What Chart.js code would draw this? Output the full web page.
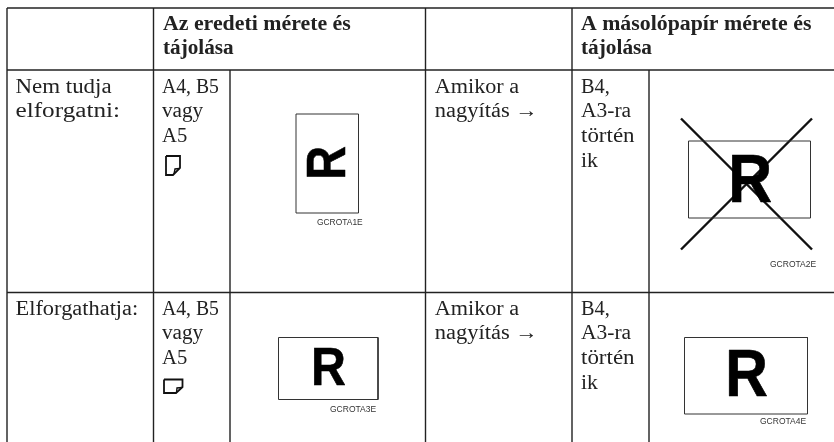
<!DOCTYPE html>
<html lang="hu">
<head>
<meta charset="utf-8">
<title>Az eredeti mérete és tájolása</title>
<script src="https://cdn.jsdelivr.net/npm/chart.js@4/dist/chart.umd.min.js"></script>
<style>
    html, body { margin: 0; padding: 0; background: #fff; }
    canvas { display: block; }
</style>
</head>
<body>
<canvas id="tableChart" width="834" height="442"></canvas>
<script>
/* Table texts */
const headerOriginal = ["Az eredeti mérete és", "tájolása"];
const headerCopy = ["A másolópapír mérete és", "tájolása"];
const rowCantRotate = ["Nem tudja", "elforgatni:"];
const rowCanRotate = ["Elforgathatja:"];
const originalSizes = ["A4, B5", "vagy", "A5"];
const whenEnlarging = ["Amikor a", "nagyítás →"];
const copySizes = ["B4,", "A3-ra", "történ", "ik"];
const figureCodes = ["GCROTA1E", "GCROTA2E", "GCROTA3E", "GCROTA4E"];

/* Table rules, in picture units */
const rowRuleY = [8, 70, 292.5];
const fullColumnX = [7, 153.5, 425.5, 572];
const subColumnX = [230, 649];
const tableBottom = 442;
const tableTop = 8;
const subColumnTop = 70;
const tableRight = 834;

/* Figures: paper outlines [left, top, right, bottom] */
const paper1 = [296, 114, 358.5, 213];
const paper2 = [688.5, 141, 810.5, 218];
const paper3 = [278.5, 337.5, 378, 399.5];
const paper4 = [684.5, 337.5, 807.5, 414];

/* Crossed out figure */
const crossA = [[681, 118.5], [812, 249.5]];
const crossB = [[812, 118.5], [681, 249.5]];

/* Small paper icons with a folded corner */
const iconPortrait = [[166, 156], [180, 156], [180, 168], [173, 175], [166, 175], [166, 156]];
const iconPortraitFold = [[174, 174], [175, 169], [179.5, 168.5]];
const iconLandscape = [[164, 379.5], [182.5, 379.5], [182.5, 387], [176, 393], [164, 393], [164, 379.5]];
const iconLandscapeFold = [[176.5, 392.5], [177, 388], [182, 387.5]];

function linePoints(pairs) {
    return pairs.map(p => ({ x: p[0], y: p[1] }));
}

function boxPoints(b) {
    return [
        { x: b[0], y: b[1] }, { x: b[2], y: b[1] },
        { x: b[2], y: b[3] }, { x: b[0], y: b[3] }, { x: b[0], y: b[1] }
    ];
}

function lineSet(points, color, width) {
    return {
        data: points,
        showLine: true,
        fill: false,
        tension: 0,
        borderColor: color,
        borderWidth: width,
        pointRadius: 0,
        borderCapStyle: "butt"
    };
}

const datasets = [];

rowRuleY.forEach(y => {
    datasets.push(lineSet([{ x: 7, y: y }, { x: tableRight, y: y }], "#222", 1.4));
});
fullColumnX.forEach(x => {
    datasets.push(lineSet([{ x: x, y: tableTop }, { x: x, y: tableBottom }], "#222", 1.4));
});
subColumnX.forEach(x => {
    datasets.push(lineSet([{ x: x, y: subColumnTop }, { x: x, y: tableBottom }], "#222", 1.4));
});

[paper1, paper2, paper3, paper4].forEach(b => {
    datasets.push(lineSet(boxPoints(b), "#333", 1));
});

datasets.push(lineSet(linePoints(crossA), "#111", 2.4));
datasets.push(lineSet(linePoints(crossB), "#111", 2.4));

[iconPortrait, iconLandscape].forEach(i => {
    datasets.push(lineSet(linePoints(i), "#111", 1.8));
});
[iconPortraitFold, iconLandscapeFold].forEach(i => {
    datasets.push(lineSet(linePoints(i), "#111", 1.4));
});

const SERIF = '"Liberation Serif", serif';
const SANS = '"Liberation Sans", sans-serif';
const BODY = "20.5px " + SERIF;
const BOLD = "bold 20px " + SERIF;
const CODE = "8.5px " + SANS;

/* each line is stretched to the width it has in the picture */
function drawLines(chart, lines, x, baselines, widths, font) {
    const ctx = chart.ctx;
    const sx = chart.scales.x;
    const sy = chart.scales.y;
    ctx.font = font;
    ctx.fillStyle = font === CODE ? "#333" : "#222";
    ctx.textAlign = "left";
    ctx.textBaseline = "alphabetic";
    lines.forEach((line, i) => {
        const m = ctx.measureText(line);
        const ink = m.actualBoundingBoxRight + m.actualBoundingBoxLeft;
        ctx.save();
        ctx.translate(sx.getPixelForValue(x), sy.getPixelForValue(baselines[i]));
        ctx.scale(widths[i] / ink, 1);
        ctx.fillText(line, m.actualBoundingBoxLeft, 0);
        ctx.restore();
    });
}

/* big R fitted to its ink box [left, top, right, bottom], stroked a bit to be as heavy as the original */
function drawBigR(chart, box, rotated) {
    const ctx = chart.ctx;
    const sx = chart.scales.x;
    const sy = chart.scales.y;
    ctx.save();
    ctx.font = "bold 60px " + SANS;
    ctx.fillStyle = "#000";
    ctx.strokeStyle = "#000";
    ctx.lineWidth = 0.6;
    ctx.lineJoin = "round";
    const m = ctx.measureText("R");
    const w = m.actualBoundingBoxRight + m.actualBoundingBoxLeft;
    const h = m.actualBoundingBoxAscent;
    const left = sx.getPixelForValue(box[0]) + 0.3;
    const right = sx.getPixelForValue(box[2]) - 0.3;
    const top = sy.getPixelForValue(box[1]) + 0.3;
    const bottom = sy.getPixelForValue(box[3]) - 0.3;
    if (rotated) {
        ctx.translate(right, bottom);
        ctx.rotate(-Math.PI / 2);
        ctx.scale((bottom - top) / w, (right - left) / h);
    } else {
        ctx.translate(left, bottom);
        ctx.scale((right - left) / w, (bottom - top) / h);
    }
    ctx.fillText("R", m.actualBoundingBoxLeft, 0);
    ctx.strokeText("R", m.actualBoundingBoxLeft, 0);
    ctx.restore();
}

/* Text and the big R letters */
const tableText = {
    id: "tableText",
    afterDatasetsDraw(chart) {
        const ctx = chart.ctx;
        const headOne = [188, 70.7];
        const headTwo = [230.6, 71];
        const sizeWidths = [56.7, 42, 25];
        const enlargeWidths = [84.3, 99.3];
        const copyWidths = [27.7, 50, 53.3, 17.7];

        ctx.save();
        drawLines(chart, headerOriginal, 163, [30, 54], headOne, BOLD);
        drawLines(chart, headerCopy, 581, [30, 54], headTwo, BOLD);

        drawLines(chart, rowCantRotate, 15.5, [93, 117], [96, 103.7], BODY);
        drawLines(chart, originalSizes, 162, [93, 117, 142], sizeWidths, BODY);
        drawLines(chart, whenEnlarging, 434.7, [93, 117], enlargeWidths, BODY);
        drawLines(chart, copySizes, 581, [93, 117, 142, 166.5], copyWidths, BODY);

        drawLines(chart, rowCanRotate, 15.5, [315], [122], BODY);
        drawLines(chart, originalSizes, 162, [315, 339, 364], sizeWidths, BODY);
        drawLines(chart, whenEnlarging, 434.7, [315, 339], enlargeWidths, BODY);
        drawLines(chart, copySizes, 581, [315, 339, 364, 389], copyWidths, BODY);

        drawLines(chart, [figureCodes[0]], 317, [225], [46], CODE);
        drawLines(chart, [figureCodes[1]], 770, [267], [46.5], CODE);
        drawLines(chart, [figureCodes[2]], 330, [412], [46.5], CODE);
        drawLines(chart, [figureCodes[3]], 760, [424], [46.5], CODE);

        drawBigR(chart, [307, 146, 345, 177], true);
        drawBigR(chart, [732, 155, 772, 202], false);
        drawBigR(chart, [314, 348, 346, 385.7], false);
        drawBigR(chart, [729, 350.7, 768, 396.7], false);
        ctx.restore();
    }
};

new Chart(document.getElementById("tableChart"), {
    type: "scatter",
    data: { datasets: datasets },
    options: {
        responsive: false,
        animation: false,
        layout: { padding: 0 },
        plugins: {
            legend: { display: false },
            tooltip: { enabled: false }
        },
        scales: {
            x: { type: "linear", min: 0, max: 834, display: false },
            y: { type: "linear", min: 0, max: 442, reverse: true, display: false }
        }
    },
    plugins: [tableText]
});
</script>
</body>
</html>
